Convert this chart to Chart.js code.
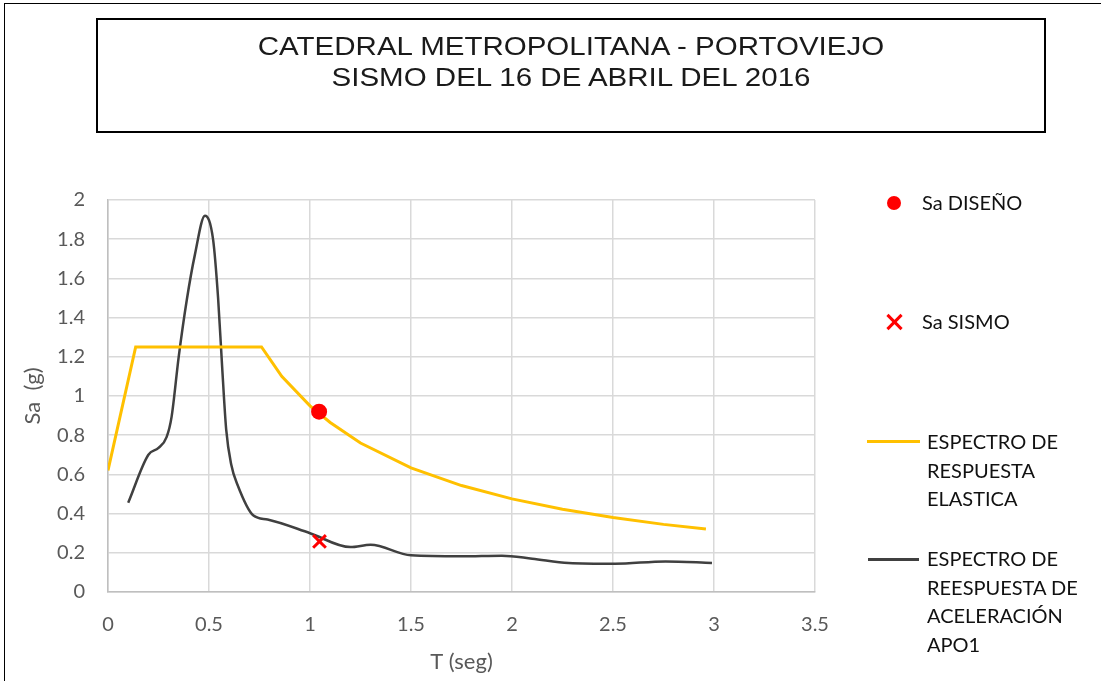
<!DOCTYPE html>
<html>
<head>
<meta charset="utf-8">
<script src="https://cdn.jsdelivr.net/npm/chart.js@4"></script>
<style>
  html, body { margin: 0; padding: 0; background: #fff; overflow: hidden; }
  #wrap { position: relative; width: 1101px; height: 681px; overflow: hidden; }
  #frame { position: absolute; left: 4px; top: 3px; width: 1200px; height: 800px; border: 1px solid #000; box-sizing: border-box; }
  #chart { position: absolute; left: 0; top: 0; }
  #titleBox {
    position: absolute; left: 96px; top: 18px; width: 950px; height: 115px;
    border: 2px solid #000; box-sizing: border-box; background: #fff;
    font-family: "Liberation Sans", Arial, sans-serif; font-size: 26px; color: #1a1a1a;
    text-align: center; line-height: 31px; padding-top: 11px;
  }
  #titleBox div { transform: scaleX(1.135); transform-origin: center; }
  .leg { position: absolute; font-family: Lato, "Open Sans", sans-serif; font-size: 20px; color: #111; line-height: 28.5px; }
  .dot { position: absolute; left: 887px; top: 196px; width: 14px; height: 14px; border-radius: 50%; background: #ff0000; }
  .cross { position: absolute; left: 885px; top: 313px; width: 18px; height: 18px; }
  .cross::before, .cross::after { content: ""; position: absolute; left: 8px; top: -1px; width: 3px; height: 20px; background: #ff0000; }
  .cross::before { transform: rotate(45deg); }
  .cross::after { transform: rotate(-45deg); }
  .swatch { position: absolute; height: 3px; }
</style>
</head>
<body>
<div id="wrap">
  <div id="frame"></div>
  <canvas id="chart" width="1101" height="681"></canvas>
  <div id="titleBox">
    <div>CATEDRAL METROPOLITANA - PORTOVIEJO</div>
    <div>SISMO DEL 16 DE ABRIL DEL 2016</div>
  </div>

  <div class="dot"></div>
  <div class="leg" style="left:922px; top:188px;">Sa DISEÑO</div>
  <div class="cross"></div>
  <div class="leg" style="left:922px; top:307px;">Sa SISMO</div>
  <div class="swatch" style="left:867px; top:440px; width:53px; background:#ffc000;"></div>
  <div class="leg" style="left:927px; top:427px;">ESPECTRO DE<br>RESPUESTA<br>ELASTICA</div>
  <div class="swatch" style="left:868px; top:558px; width:51px; background:#404040;"></div>
  <div class="leg" style="left:927px; top:544px;">ESPECTRO DE<br>REESPUESTA DE<br>ACELERACIÓN<br>APO1</div>
</div>
<script>
  // elastic design spectrum
  const elasticT = [0, 0.137, 0.76, 0.86, 1.0, 1.1, 1.25, 1.5, 1.75, 2.0, 2.25, 2.5, 2.75, 2.96];
  const elasticSa = [0.62, 1.25, 1.25, 1.10, 0.95, 0.865, 0.76, 0.633, 0.543, 0.475, 0.422, 0.38, 0.345, 0.321];

  // acceleration response spectrum APO1
  const recordT = [0.1, 0.2, 0.25, 0.29, 0.315, 0.35, 0.39, 0.43, 0.48, 0.52, 0.545, 0.565, 0.585, 0.61, 0.64, 0.72, 0.79, 1.0, 1.2, 1.3, 1.5, 1.75, 1.95, 2.1, 2.28, 2.51, 2.76, 2.99];
  const recordSa = [0.455, 0.70, 0.735, 0.79, 0.895, 1.2, 1.49, 1.72, 1.92, 1.80, 1.5, 1.15, 0.83, 0.65, 0.55, 0.39, 0.37, 0.30, 0.229, 0.241, 0.187, 0.182, 0.185, 0.17, 0.148, 0.144, 0.156, 0.148];

  const designT = [1.045];
  const designSa = [0.92];
  const quakeT = [1.047];
  const quakeSa = [0.258];

  const xTickLabels = ["0", "0.5", "1", "1.5", "2", "2.5", "3", "3.5"];
  const yTickLabels = ["0", "0.2", "0.4", "0.6", "0.8", "1", "1.2", "1.4", "1.6", "1.8", "2"];

  const tickColor = "#595959";
  const gridColor = "#d9d9d9";

  function toPoints(xs, ys) {
    return xs.map((x, i) => ({ x: x, y: ys[i] }));
  }

  new Chart(document.getElementById("chart").getContext("2d"), {
    type: "scatter",
    data: {
      datasets: [
        {
          label: "Sa DISEÑO",
          data: toPoints(designT, designSa),
          pointStyle: "circle",
          pointRadius: 8,
          backgroundColor: "#ff0000",
          borderColor: "#ff0000",
          borderWidth: 0
        },
        {
          label: "Sa SISMO",
          data: toPoints(quakeT, quakeSa),
          pointStyle: "crossRot",
          pointRadius: 9,
          borderColor: "#ff0000",
          borderWidth: 3
        },
        {
          label: "ESPECTRO DE RESPUESTA ELASTICA",
          data: toPoints(elasticT, elasticSa),
          showLine: true,
          borderColor: "#ffc000",
          borderWidth: 3,
          pointRadius: 0,
          tension: 0
        },
        {
          label: "ESPECTRO DE REESPUESTA DE ACELERACIÓN APO1",
          data: toPoints(recordT, recordSa),
          showLine: true,
          borderColor: "#404040",
          borderWidth: 2.5,
          pointRadius: 0,
          cubicInterpolationMode: "monotone"
        }
      ]
    },
    options: {
      responsive: false,
      animation: false,
      devicePixelRatio: 1,
      layout: { padding: { left: 0, right: 286, top: 200, bottom: 0 } },
      plugins: {
        legend: { display: false },
        tooltip: { enabled: false }
      },
      scales: {
        x: {
          type: "linear",
          min: 0,
          max: 3.5,
          afterFit: (scale) => { scale.height = 89; },
          afterBuildTicks: (scale) => { scale.ticks = xTickLabels.map((t) => ({ value: Number(t) })); },
          ticks: {
            color: tickColor,
            font: { family: "Lato", size: 20 },
            padding: 21,
            callback: (value, index) => xTickLabels[index]
          },
          grid: { color: gridColor, lineWidth: 1.5, drawTicks: false },
          border: { color: "#bfbfbf", width: 1.5 },
          title: {
            display: true,
            text: "T (seg)",
            color: tickColor,
            font: { family: "Lato", size: 22 },
            padding: { top: 0, bottom: 6 }
          }
        },
        y: {
          min: 0,
          max: 2,
          afterFit: (scale) => { scale.width = 108; },
          afterBuildTicks: (scale) => { scale.ticks = yTickLabels.map((t) => ({ value: Number(t) })); },
          ticks: {
            color: tickColor,
            font: { family: "Lato", size: 20 },
            padding: 23,
            callback: (value, index) => yTickLabels[index]
          },
          grid: { color: gridColor, lineWidth: 1.5, drawTicks: false },
          border: { color: "#bfbfbf", width: 1.5 },
          title: {
            display: true,
            text: "Sa  (g)",
            color: tickColor,
            font: { family: "Lato", size: 22 },
            padding: { top: 20, bottom: 0 }
          }
        }
      }
    }
  });
</script>
</body>
</html>
